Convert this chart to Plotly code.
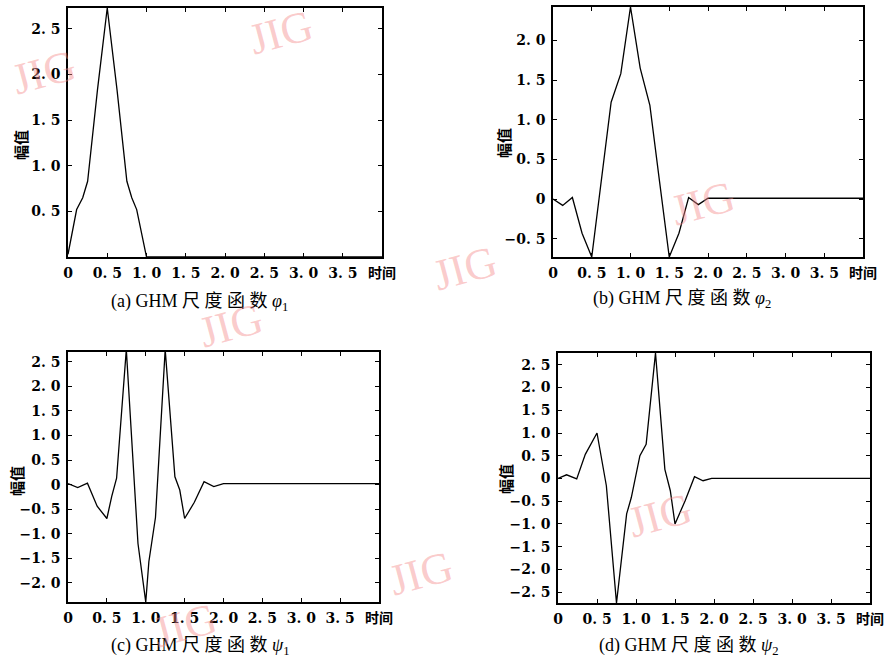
import plotly.graph_objects as go

W, H = 892, 663

# ---------------- data ----------------
a_t = [0, 0.11, 0.1875, 0.25, 0.375, 0.5, 0.625, 0.75, 0.8125, 0.875, 1.0, 4.0]
a_v = [0.03, 0.52, 0.65, 0.83, 1.83, 2.73, 1.83, 0.83, 0.65, 0.52, 0.0, 0.0]

b_t = [0, 0.125, 0.25, 0.375, 0.5, 0.625, 0.75, 0.875, 1.0, 1.125, 1.25, 1.375,
       1.5, 1.625, 1.75, 1.875, 2.0, 4.0]
b_v = [0.0, -0.08, 0.02, -0.43, -0.73, 0.25, 1.22, 1.58, 2.42, 1.65, 1.18, 0.22,
       -0.73, -0.43, 0.02, -0.07, 0.01, 0.01]

c_t = [0, 0.125, 0.25, 0.375, 0.5, 0.5625, 0.625, 0.75, 0.9, 1.0, 1.04, 1.125,
       1.25, 1.375, 1.4375, 1.5, 1.625, 1.75, 1.875, 2.0, 4.0]
c_v = [0.02, -0.06, 0.03, -0.44, -0.69, -0.24, 0.13, 2.75, -1.2, -2.39, -1.57, -0.67,
       2.75, 0.16, -0.11, -0.69, -0.36, 0.06, -0.04, 0.02, 0.02]

d_t = [0, 0.11, 0.24, 0.35, 0.5, 0.62, 0.75, 0.88, 0.94, 1.05, 1.13, 1.25,
       1.37, 1.44, 1.5, 1.63, 1.75, 1.86, 1.97, 4.0]
d_v = [0.0, 0.08, -0.01, 0.53, 1.0, -0.16, -2.74, -0.78, -0.42, 0.5, 0.75, 2.76,
       0.2, -0.27, -1.0, -0.49, 0.04, -0.05, 0.0, 0.0]

x_tick_vals = [0, 0.5, 1.0, 1.5, 2.0, 2.5, 3.0, 3.5, 4.0]
x_tick_text = ["0", "0. 5", "1. 0", "1. 5", "2. 0", "2. 5", "3. 0", "3. 5", "时间"]

a_ytick_vals = [0.5, 1.0, 1.5, 2.0, 2.5]
a_ytick_text = ["0. 5", "1. 0", "1. 5", "2. 0", "2. 5"]
b_ytick_vals = [-0.5, 0, 0.5, 1.0, 1.5, 2.0]
b_ytick_text = ["−0. 5", "0", "0. 5", "1. 0", "1. 5", "2. 0"]
c_ytick_vals = [-2.0, -1.5, -1.0, -0.5, 0, 0.5, 1.0, 1.5, 2.0, 2.5]
c_ytick_text = ["−2. 0", "−1. 5", "−1. 0", "−0. 5", "0", "0. 5", "1. 0", "1. 5", "2. 0", "2. 5"]
d_ytick_vals = [-2.5, -2.0, -1.5, -1.0, -0.5, 0, 0.5, 1.0, 1.5, 2.0, 2.5]
d_ytick_text = ["−2. 5", "−2. 0", "−1. 5", "−1. 0", "−0. 5", "0", "0. 5", "1. 0", "1. 5", "2. 0", "2. 5"]

captions = ["(a) GHM 尺 度 函 数 <i>φ</i><sub>1</sub>",
            "(b) GHM 尺 度 函 数 <i>φ</i><sub>2</sub>",
            "(c) GHM 尺 度 函 数 <i>ψ</i><sub>1</sub>",
            "(d) GHM 尺 度 函 数 <i>ψ</i><sub>2</sub>"]
y_title = "幅值"

# ---------------- layout geometry (pixels) ----------------
panels = [
    dict(t=a_t, v=a_v, box=(68, 382, 8, 257), yr=[0.0, 2.73], yv=a_ytick_vals, yt=a_ytick_text,
         ytitle=(20, 145), cap=(199, 303)),
    dict(t=b_t, v=b_v, box=(553, 863, 7, 257), yr=[-0.73, 2.42], yv=b_ytick_vals, yt=b_ytick_text,
         ytitle=(503, 143), cap=(682, 300)),
    dict(t=c_t, v=c_v, box=(68, 379, 352, 602), yr=[-2.39, 2.70], yv=c_ytick_vals, yt=c_ytick_text,
         ytitle=(16, 481), cap=(200, 646)),
    dict(t=d_t, v=d_v, box=(558, 870, 353, 603), yr=[-2.74, 2.76], yv=d_ytick_vals, yt=d_ytick_text,
         ytitle=(505, 479), cap=(688, 646)),
]

def px(x):
    return x / W

def py(y):
    return 1 - y / H

tick_font = dict(family="DejaVu Serif, Noto Sans CJK SC", size=14, color="black", weight="bold")

fig = go.Figure()
layout = dict(width=W, height=H, margin=dict(l=0, r=0, t=0, b=0, autoexpand=False),
              template="none",
              paper_bgcolor="white", plot_bgcolor="white", showlegend=False)
annotations = []

for i, p in enumerate(panels, start=1):
    sx = "" if i == 1 else str(i)
    fig.add_trace(go.Scatter(x=p["t"], y=p["v"], mode="lines",
                             line=dict(color="black", width=1.3),
                             xaxis="x" + sx, yaxis="y" + sx, hoverinfo="skip"))
    x0, x1, y0, y1 = p["box"]
    common = dict(showline=True, linecolor="black", linewidth=1.5, mirror="ticks",
                  ticks="inside", ticklen=4, tickwidth=1, tickcolor="black",
                  showgrid=False, zeroline=False, tickfont=tick_font, fixedrange=True,
                  automargin=False)
    layout["xaxis" + sx] = dict(common, domain=[px(x0), px(x1)], range=[0, 4],
                                anchor="y" + sx, tickmode="array",
                                tickvals=x_tick_vals, ticktext=x_tick_text,
                                ticklabelstandoff=2)
    layout["yaxis" + sx] = dict(common, domain=[py(y1), py(y0)], range=p["yr"],
                                anchor="x" + sx, tickmode="array",
                                tickvals=p["yv"], ticktext=p["yt"],
                                ticklabelstandoff=3)
    tx, ty = p["ytitle"]
    annotations.append(dict(x=px(tx), y=py(ty), xref="paper", yref="paper",
                            text=y_title, showarrow=False, textangle=-90,
                            font=dict(family="Noto Sans CJK SC", size=15, color="black", weight="bold"),
                            xanchor="center", yanchor="middle"))
    cx, cy = p["cap"]
    annotations.append(dict(x=px(cx), y=py(cy), xref="paper", yref="paper",
                            text=captions[i - 1], showarrow=False,
                            font=dict(family="Liberation Serif, Noto Sans CJK SC", size=18, color="black"),
                            xanchor="center", yanchor="middle", borderpad=0))

# publisher watermarks
wm_pos = [(44, 72), (281, 32), (465, 268), (703, 203), (231, 325),
          (185, 625), (660, 515), (421, 573)]
for wx, wy in wm_pos:
    annotations.append(dict(x=px(wx), y=py(wy), xref="paper", yref="paper",
                            text="JIG", showarrow=False, textangle=-15,
                            font=dict(family="Liberation Serif", size=44, color="rgba(245,140,140,0.45)"),
                            xanchor="center", yanchor="middle"))

layout["annotations"] = annotations
fig.update_layout(**layout)
fig.write_html("out.html", config={"displayModeBar": False},
               post_script="document.body.style.margin='0';document.body.style.overflow='hidden';")
